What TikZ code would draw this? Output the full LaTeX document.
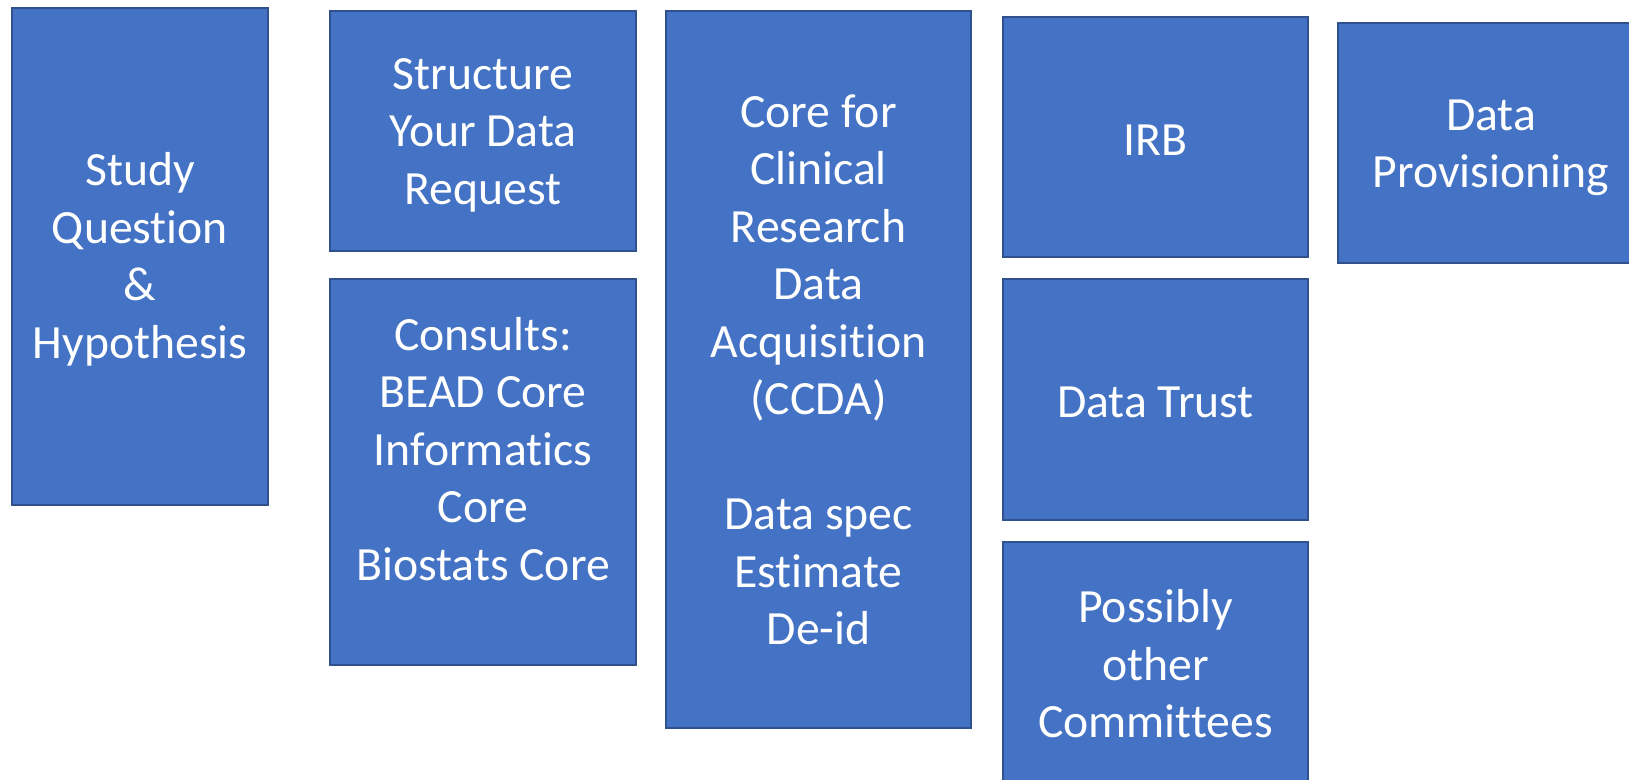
\documentclass[tikz,border=0pt]{standalone}
\usepackage{fontspec}
\setmainfont[Ligatures={NoCommon}]{Carlito}
\definecolor{boxblue}{RGB}{68,114,196}
\definecolor{boxedge}{RGB}{47,82,143}
\tikzset{
    box/.style={draw=boxedge, line width=2pt, fill=boxblue},
    boxtext/.style={text=white, align=center, inner sep=0pt,
        font=\fontsize{47.7}{57.5}\selectfont},
}

\begin{document}
\begin{tikzpicture}[x=1pt,y=-1pt]
        \useasboundingbox (0,0) rectangle (1629,779);
        \clip (0,0) rectangle (1629,779);

        % Study question
        \draw[box] (12,8) rectangle (268,505);
        \node[boxtext] (study) at (140,259.5) {Study\\Question\\\&\\Hypothesis};

        % Request and consults
        \draw[box] (330,11) rectangle (636,251);
        \node[boxtext] (request) at (483,135) {Structure\\Your Data\\Request};
        \draw[box] (330,279) rectangle (636,665);
        \node[boxtext] (consults) at (483,449) {Consults:\\BEAD Core\\Informatics\\Core\\Biostats Core};

        % CCDA
        \draw[box] (666,11) rectangle (971,728);
        \node[boxtext] (ccda) at (818.5,370) {Core for\\Clinical\\Research\\Data\\Acquisition\\(CCDA)\\\strut\\Data spec\\Estimate\\De-id};

        % Approvals
        \draw[box] (1003,17) rectangle (1308,257);
        \node[boxtext] (irb) at (1155.5,140) {IRB};
        \draw[box] (1003,279) rectangle (1308,520);
        \node[boxtext] (trust) at (1155.5,402.5) {Data Trust};
        \draw[box] (1003,542) rectangle (1308,790);
        \node[boxtext] (committees) at (1155.5,664) {Possibly\\other\\Committees};

        % Provisioning
        \draw[box] (1338,23) rectangle (1644,263);
        \node[boxtext] (provisioning) at (1491,148) {Data\\Provisioning};

\end{tikzpicture}
\end{document}
